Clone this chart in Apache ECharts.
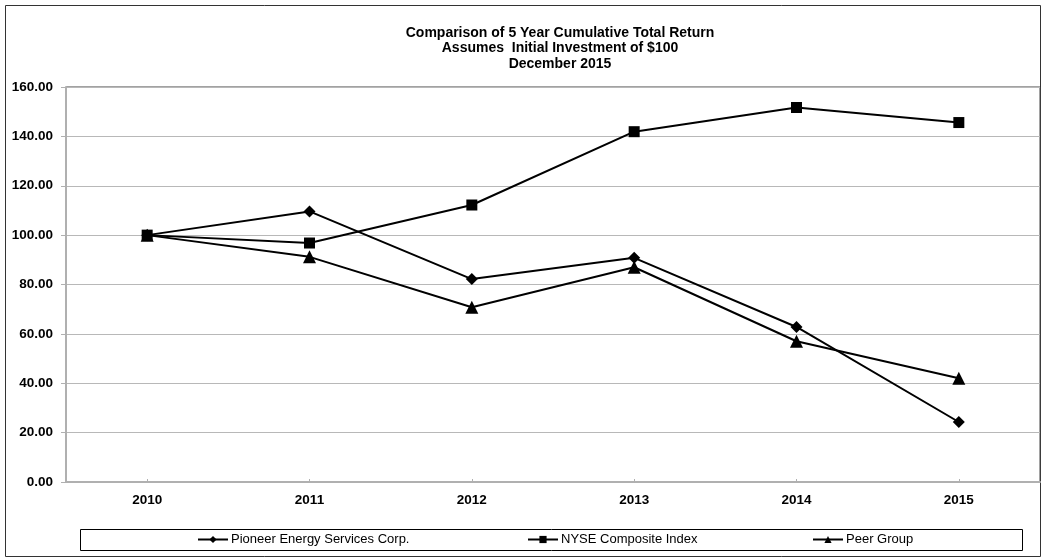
<!DOCTYPE html>
<html>
<head>
<meta charset="utf-8">
<script src="https://cdn.jsdelivr.net/npm/echarts@6/dist/echarts.min.js"></script>
<style>html,body{margin:0;padding:0;background:#fff}#c{width:1043px;height:560px}</style>
</head>
<body>
<div id="c"></div>
<script>
var years = ['2010', '2011', '2012', '2013', '2014', '2015'];
var pioneer = [100, 109.6, 82.2, 90.8, 62.8, 24.3];
var nyse = [100, 96.8, 112.2, 141.9, 151.7, 145.6];
var peer = [100, 91.2, 70.8, 87.0, 57.0, 42.0];
var titleLines = ['Comparison of 5 Year Cumulative Total Return', 'Assumes  Initial Investment of $100', 'December 2015'];
var seriesNames = ['Pioneer Energy Services Corp.', 'NYSE Composite Index', 'Peer Group'];

var FONT = '"Liberation Sans", Arial, sans-serif';
var chart = echarts.init(document.getElementById('c'), null, {renderer: 'canvas'});

function mkSeries(name, data, symbol, size) {
  return {
    name: name, type: 'line', data: data, symbol: symbol, symbolSize: size,
    lineStyle: {color: '#000', width: 2}, itemStyle: {color: '#000'},
    emphasis: {disabled: true}, animation: false, z: 3
  };
}

var titleGraphics = titleLines.map(function (t, i) {
  return {type: 'text', x: 560, y: 33 + i * 15.5,
    style: {text: t, font: 'bold 14px ' + FONT, fill: '#000', textAlign: 'center', textVerticalAlign: 'middle'}};
});

function mkLegend(name, left) {
  return {
    data: [name], left: left, top: 533, itemWidth: 30, itemHeight: 9, itemGap: 4,
    textStyle: {fontFamily: FONT, fontSize: 13, color: '#000', padding: [0, 0, 0, -2]},
    selectedMode: false, padding: 0
  };
}

chart.setOption({
  animation: false,
  backgroundColor: '#fff',
  grid: {left: 66, right: 3, top: 87, bottom: 78, show: true, borderColor: '#444', borderWidth: 1},
  xAxis: {
    type: 'category', data: years, boundaryGap: true,
    axisLine: {lineStyle: {color: '#b0b0b0', width: 2}},
    axisTick: {show: true, alignWithLabel: true, inside: true, length: 3, lineStyle: {color: '#b0b0b0'}},
    axisLabel: {fontFamily: FONT, fontSize: 13.5, fontWeight: 'bold', color: '#000', margin: 11},
    splitLine: {show: false}
  },
  yAxis: {
    type: 'value', min: 0, max: 160, interval: 20,
    axisLine: {show: true, lineStyle: {color: '#b0b0b0', width: 2}},
    axisTick: {show: true, length: 5, lineStyle: {color: '#b0b0b0'}},
    axisLabel: {fontFamily: FONT, fontSize: 13.5, fontWeight: 'bold', color: '#000', margin: 13,
      formatter: function (v) { return v.toFixed(2); }},
    splitLine: {show: true, lineStyle: {color: '#b8b8b8', width: 1}}
  },
  legend: [mkLegend(seriesNames[0], 197), mkLegend(seriesNames[1], 527), mkLegend(seriesNames[2], 812)],
  series: [
    mkSeries(seriesNames[0], pioneer, 'diamond', 12),
    mkSeries(seriesNames[1], nyse, 'rect', 11),
    mkSeries(seriesNames[2], peer, 'triangle', 13)
  ],
  graphic: [
    {type: 'rect', shape: {x: 5.5, y: 5.5, width: 1035, height: 551}, style: {fill: 'none', stroke: '#333', lineWidth: 1}, silent: true, z: -1},
    {type: 'rect', shape: {x: 80.5, y: 529.5, width: 942, height: 21}, style: {fill: 'none', stroke: '#000', lineWidth: 1}, silent: true, z: -1}
  ].concat(titleGraphics)
});
</script>
</body>
</html>
